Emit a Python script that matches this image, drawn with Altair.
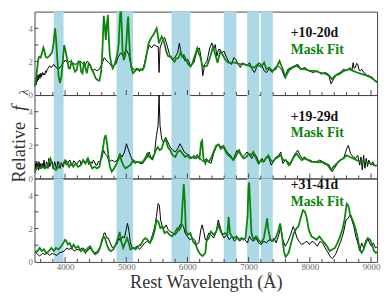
import altair as alt
import pandas as pd

SERIF = "Liberation Serif"
W, H = 349, 85
XMIN, XMAX = 3500, 9100

# masked wavelength windows (Angstrom)
band_start = [3815, 4840, 5740, 6595, 6975, 7200]
band_end = [3975, 5110, 6045, 6800, 7172, 7395]

phase_labels = ["+10-20d", "+19-29d", "+31-41d"]
fit_label = "Mask Fit"

x_label_values = [4000, 5000, 6000, 7000, 8000, 9000]
x_tick_values = list(range(3600, 9001, 200))
y_label_values = [0, 2, 4]
y_tick_values = [1, 2, 3, 4]

# ---------- panel 1 (+10-20d) ----------
p1_obs = [(3505,0.5),(3515,0.9),(3525,0.6),(3535,1.0),(3545,0.8),(3555,1.2),(3565,0.9),(3578,1.25),
          (3590,1.0),(3603,1.3),(3615,1.1),(3628,1.35),(3642,1.2),(3655,1.3),(3668,1.2),(3681,1.45),
          (3695,1.35),(3708,1.55),(3725,1.6),(3745,1.75),(3777,1.65),(3814,1.84),(3852,1.65),(3894,1.55),
          (3937,1.75),(3974,1.94),(4001,2.1),(4044,1.94),(4081,2.04),(4118,1.94),(4161,1.84),(4204,1.88),
          (4241,2.04),(4278,1.94),(4321,1.75),(4364,2.04),(4401,1.84),(4444,1.45),(4481,1.55),(4523,1.45),
          (4561,1.55),(4598,1.84),(4641,2.24),(4683,2.04),(4721,1.94),(4774,1.65),(4827,1.84),(4865,2.24),
          (4907,2.53),(4950,2.33),(4998,2.73),(5040,2.43),(5083,1.7),(5131,1.5),(5174,1.6),(5227,1.5),
          (5280,1.6),(5334,2.5),(5376,3.0),(5413,2.82),(5451,3.02),(5493,2.92),(5522,2.9),(5536,1.35),
          (5552,2.82),(5589,3.22),(5627,3.45),(5664,3.02),(5707,2.43),(5749,2.14),(5792,2.24),(5840,2.53),
          (5868,3.1),(5900,2.4),(5930,2.3),(5962,2.04),(6005,2.14),(6053,1.75),(6106,1.94),(6160,2.73),
          (6197,2.82),(6229,2.04),(6250,1.16),(6282,1.84),(6321,2.04),(6364,2.82),(6401,3.12),(6428,2.73),
          (6455,3.02),(6481,2.33),(6508,2.73),(6535,2.73),(6561,2.53),(6598,2.63),(6641,2.24),(6684,1.94),
          (6721,1.84),(6758,2.24),(6790,2.14),(6828,1.84),(6865,1.65),(6897,1.94),(6934,1.84),(6972,1.75),
          (7014,1.94),(7057,1.55),(7094,1.35),(7131,1.65),(7174,1.94),(7217,1.75),(7254,1.45),(7291,1.35),
          (7334,1.55),(7387,1.35),(7430,1.65),(7483,1.75),(7537,1.55),(7590,1.06),(7643,1.55),(7696,1.65),
          (7750,1.75),(7803,1.84),(7856,1.55),(7920,1.65),(7984,1.45),(8054,1.35),(8123,1.45),(8187,1.25),
          (8251,1.35),(8304,1.25),(8347,0.67),(8389,0.96),(8443,1.25),(8496,1.35),(8549,1.55),(8603,1.45),
          (8656,1.65),(8690,1.5),(8709,1.94),(8725,1.6),(8747,1.65),(8765,1.9),(8784,1.84),(8805,1.5),
          (8826,1.45),(8850,1.55),(8880,1.35),(8905,1.3),(8933,1.16),(8960,1.2),(8986,1.06),(9010,1.1),
          (9040,0.96),(9060,0.9),(9085,0.76),(9100,0.8)]
p1_fit = [(3505,0.55),(3520,0.8),(3535,1.3),(3550,1.8),(3565,2.2),(3580,2.3),(3601,2.25),(3628,2.6),
          (3645,2.85),(3660,2.7),(3681,2.3),(3708,2.24),(3730,2.3),(3760,2.4),(3790,2.6),(3815,3.2),
          (3835,4.0),(3850,3.5),(3870,2.3),(3895,1.1),(3915,0.72),(3940,1.1),(3962,2.0),(3985,3.0),
          (4010,2.6),(4035,2.1),(4060,1.6),(4081,1.6),(4105,2.0),(4130,1.8),(4161,1.4),(4190,1.5),
          (4215,2.0),(4241,2.0),(4262,1.4),(4285,1.3),(4310,2.0),(4335,1.6),(4355,1.3),(4385,1.9),
          (4410,1.8),(4440,1.5),(4470,1.3),(4500,1.0),(4530,0.9),(4561,0.85),(4590,1.4),(4612,2.8),
          (4632,4.75),(4648,4.2),(4665,3.3),(4682,4.2),(4700,4.8),(4712,3.6),(4730,2.4),(4755,1.9),
          (4780,1.6),(4805,1.8),(4830,2.1),(4855,2.5),(4875,3.0),(4895,4.5),(4910,5.4),(4925,4.2),
          (4940,2.6),(4960,2.1),(4985,2.4),(5005,3.3),(5022,4.4),(5032,4.7),(5045,3.5),(5062,2.3),
          (5085,1.6),(5110,1.3),(5135,1.4),(5160,1.5),(5190,1.55),(5215,1.45),(5240,1.55),(5265,1.5),
          (5290,1.65),(5315,2.1),(5340,2.6),(5365,3.1),(5390,3.3),(5420,3.5),(5450,3.65),(5475,3.85),
          (5497,4.0),(5515,3.6),(5535,3.1),(5555,3.3),(5580,3.5),(5605,3.3),(5630,3.0),(5655,2.6),
          (5680,2.35),(5707,2.3),(5730,2.3),(5760,2.1),(5790,2.0),(5815,2.2),(5840,2.2),(5865,2.3),
          (5890,2.6),(5915,2.3),(5940,2.4),(5965,2.2),(5990,2.0),(6020,1.8),(6050,1.7),(6080,1.9),
          (6106,2.2),(6135,2.5),(6160,2.8),(6185,2.5),(6210,2.3),(6240,1.8),(6268,1.7),(6321,1.75),
          (6375,2.33),(6417,2.9),(6455,2.43),(6492,1.94),(6535,2.6),(6572,2.43),(6614,2.14),(6668,1.94),
          (6721,1.94),(6774,1.94),(6828,1.88),(6881,1.84),(6934,1.84),(6988,1.8),(7041,1.69),(7094,1.65),
          (7147,1.84),(7201,1.69),(7254,1.94),(7291,1.55),(7334,1.65),(7387,1.45),(7441,1.55),(7505,2.04),
          (7558,1.55),(7600,1.06),(7654,1.45),(7718,1.65),(7787,1.75),(7856,1.55),(7920,1.55),(8000,1.45),
          (8080,1.45),(8160,1.35),(8240,1.29),(8320,1.16),(8363,0.96),(8411,1.16),(8480,1.25),(8560,1.45),
          (8640,1.55),(8709,1.45),(8773,1.35),(8853,1.25),(8933,1.16),(9013,1.02),(9082,0.82),(9100,0.8)]

# ---------- panel 2 (+19-29d) ----------
p2_obs = [(3505,0.31),(3515,0.9),(3525,0.5),(3535,1.0),(3545,0.6),(3555,0.9),(3565,0.5),(3575,1.0),
          (3588,0.6),(3601,0.9),(3615,0.6),(3628,0.9),(3642,0.7),(3655,1.1),(3668,0.6),(3681,0.7),
          (3695,1.0),(3708,0.9),(3720,0.6),(3734,1.2),(3748,0.7),(3761,0.8),(3775,1.1),(3788,1.0),
          (3800,0.6),(3814,0.7),(3828,1.0),(3841,0.9),(3855,0.6),(3868,0.7),(3880,1.0),(3894,1.0),
          (3908,0.7),(3921,0.6),(3935,0.95),(3948,0.9),(3960,0.7),(3974,0.7),(3988,1.0),(4001,1.0),
          (4022,0.8),(4044,0.9),(4062,1.05),(4081,1.1),(4100,0.8),(4118,0.8),(4140,1.05),(4161,1.0),
          (4182,0.85),(4204,0.9),(4222,1.05),(4241,1.1),(4260,0.85),(4278,0.9),(4300,1.1),(4321,1.0),
          (4342,0.95),(4364,1.2),(4382,0.85),(4401,0.9),(4422,1.0),(4444,0.9),(4462,1.1),(4481,1.0),
          (4502,0.8),(4523,0.8),(4542,1.0),(4561,1.0),(4580,1.1),(4598,1.2),(4630,1.69),(4651,1.49),
          (4683,1.39),(4721,1.0),(4763,1.1),(4811,1.0),(4854,1.1),(4896,1.49),(4934,1.29),(4971,1.59),
          (5003,2.08),(5030,1.78),(5067,1.39),(5110,1.0),(5147,0.9),(5184,1.0),(5227,0.9),(5270,0.9),
          (5307,1.1),(5344,1.29),(5376,1.59),(5403,1.2),(5429,1.1),(5461,1.49),(5493,2.57),(5520,3.16),
          (5536,5.0),(5552,3.16),(5579,2.37),(5610,2.18),(5643,2.47),(5680,2.18),(5717,1.88),(5760,1.69),
          (5802,1.59),(5840,1.78),(5877,2.08),(5909,1.88),(5946,1.59),(5984,1.49),(6026,1.39),(6069,1.2),
          (6106,1.39),(6144,1.2),(6186,1.29),(6229,1.1),(6268,1.0),(6311,1.2),(6348,1.0),(6385,0.9),
          (6428,1.49),(6471,1.88),(6508,2.08),(6545,1.88),(6588,1.98),(6630,1.69),(6668,1.49),(6705,1.39),
          (6748,1.1),(6785,1.49),(6812,1.69),(6854,1.49),(6897,1.29),(6934,1.39),(6972,1.59),(7014,1.39),
          (7052,1.2),(7094,1.49),(7131,1.29),(7174,0.9),(7217,1.2),(7254,1.0),(7291,1.29),(7334,1.2),
          (7371,0.8),(7414,1.1),(7451,1.29),(7494,1.39),(7526,1.59),(7558,0.9),(7600,1.1),(7643,1.0),
          (7680,0.8),(7718,1.2),(7760,1.49),(7803,1.69),(7840,1.39),(7878,1.2),(7920,1.29),(7963,1.1),
          (8006,1.1),(8054,1.0),(8107,1.0),(8160,1.1),(8214,1.0),(8267,0.9),(8320,0.8),(8363,0.41),
          (8400,0.6),(8453,0.9),(8507,1.1),(8560,1.29),(8603,1.78),(8629,1.98),(8667,1.49),(8709,1.29),
          (8747,1.2),(8784,1.39),(8816,0.8),(8837,1.29),(8858,0.51),(8880,1.39),(8901,0.61),(8922,1.2),
          (8944,0.71),(8965,1.1),(8997,0.8),(9029,1.0),(9061,0.76),(9093,0.8)]
p2_fit = [(3511,0.51),(3548,0.7),(3585,0.6),(3628,0.7),(3670,0.6),(3708,0.7),(3734,1.0),(3761,1.2),
          (3788,0.9),(3814,0.6),(3852,0.5),(3894,0.7),(3937,0.8),(3974,0.9),(4001,1.1),(4028,1.0),
          (4065,0.7),(4097,0.9),(4134,0.7),(4172,0.9),(4214,0.7),(4257,0.8),(4294,1.1),(4332,0.9),
          (4374,1.2),(4406,0.9),(4444,0.6),(4481,0.7),(4523,0.6),(4561,0.7),(4587,1.2),(4614,1.69),
          (4641,2.37),(4662,2.61),(4683,2.18),(4705,1.49),(4731,0.7),(4763,0.41),(4801,0.6),(4843,0.9),
          (4880,1.2),(4896,1.49),(4918,1.1),(4950,0.8),(4987,0.6),(5025,0.7),(5067,0.8),(5110,1.1),
          (5147,1.0),(5184,1.0),(5227,0.96),(5270,1.0),(5307,1.2),(5344,1.49),(5376,1.29),(5413,1.2),
          (5451,1.39),(5483,1.69),(5515,1.88),(5547,1.69),(5579,1.78),(5610,2.18),(5643,2.37),(5680,1.88),
          (5717,1.69),(5760,1.39),(5802,1.29),(5840,1.59),(5877,1.69),(5920,1.49),(5962,1.29),(6000,1.39),
          (6037,1.2),(6080,1.29),(6122,1.2),(6160,1.39),(6197,1.2),(6224,2.18),(6240,2.27),(6261,1.2),
          (6293,0.9),(6311,1.1),(6348,1.0),(6385,1.2),(6428,1.59),(6471,1.98),(6508,2.02),(6545,1.78),
          (6588,1.88),(6630,1.59),(6668,1.39),(6705,1.29),(6748,1.1),(6785,1.29),(6812,1.49),(6844,1.69),
          (6881,1.39),(6918,1.2),(6961,1.29),(7004,1.49),(7041,1.39),(7078,1.59),(7121,1.2),(7163,0.9),
          (7201,1.1),(7238,1.0),(7281,1.2),(7323,1.39),(7361,1.1),(7398,1.0),(7441,1.2),(7483,1.29),
          (7526,1.39),(7568,1.1),(7611,1.1),(7654,0.8),(7696,1.0),(7739,1.29),(7787,1.49),(7824,1.29),
          (7867,1.1),(7920,1.2),(7974,1.1),(8027,1.0),(8080,1.0),(8134,0.96),(8187,1.0),(8240,0.9),
          (8293,0.8),(8347,0.51),(8389,0.71),(8443,0.9),(8496,1.1),(8549,1.2),(8603,1.39),(8656,1.29),
          (8709,1.2),(8762,1.1),(8816,1.04),(8880,1.0),(8933,0.96),(8997,0.9),(9050,0.8),(9093,0.76)]

# ---------- panel 3 (+31-41d) ----------
p3_obs = [(3511,0.65),(3548,0.45),(3585,0.35),(3628,0.51),(3670,0.45),(3708,0.55),(3745,0.39),(3788,0.51),
          (3830,0.45),(3868,0.39),(3905,0.55),(3948,0.59),(3985,0.65),(4028,0.84),(4065,0.75),(4108,0.84),
          (4150,0.65),(4193,0.75),(4236,0.71),(4278,0.84),(4321,0.75),(4364,0.65),(4406,0.84),(4449,0.65),
          (4491,0.55),(4534,0.65),(4577,0.94),(4609,1.24),(4635,1.73),(4657,1.73),(4678,1.43),(4705,1.43),
          (4737,1.14),(4774,0.84),(4811,0.94),(4843,1.04),(4880,1.43),(4907,1.24),(4939,1.53),(4971,1.43),
          (5003,2.02),(5020,2.31),(5046,1.82),(5067,1.14),(5099,0.84),(5131,0.84),(5174,0.94),(5216,0.75),
          (5259,0.94),(5302,1.14),(5344,1.24),(5387,1.14),(5429,1.63),(5467,2.12),(5493,2.71),(5520,3.49),
          (5541,3.39),(5562,2.51),(5589,2.12),(5621,2.02),(5653,2.22),(5685,1.92),(5717,1.82),(5760,1.73),
          (5802,1.63),(5840,1.82),(5877,2.22),(5900,2.31),(5936,2.12),(5962,1.73),(6000,1.53),(6037,1.33),
          (6080,1.43),(6117,1.33),(6149,1.04),(6186,1.14),(6218,1.92),(6240,2.22),(6266,1.82),(6293,1.33),
          (6311,1.33),(6348,1.73),(6385,1.63),(6428,1.43),(6471,1.82),(6503,2.51),(6535,2.12),(6566,1.63),
          (6598,1.43),(6641,1.63),(6684,1.33),(6726,1.53),(6769,1.24),(6812,1.43),(6854,1.24),(6897,1.43),
          (6940,1.33),(6982,1.14),(7014,1.53),(7046,1.33),(7078,1.24),(7121,1.43),(7163,1.14),(7206,1.04),
          (7249,1.24),(7291,1.14),(7334,1.33),(7377,1.24),(7414,1.43),(7451,1.14),(7494,1.63),(7526,2.12),
          (7558,1.33),(7600,0.94),(7643,1.24),(7686,1.63),(7728,2.12),(7760,1.82),(7792,1.43),(7824,1.24),
          (7867,1.04),(7909,1.14),(7952,1.24),(7995,1.04),(8038,1.24),(8080,1.14),(8123,0.94),(8166,1.24),
          (8208,1.14),(8251,0.84),(8293,0.6),(8336,0.3),(8370,0.2),(8421,0.45),(8464,0.84),(8507,1.24),
          (8549,1.73),(8592,2.51),(8624,2.61),(8656,2.8),(8688,2.51),(8720,2.12),(8752,1.53),(8784,1.14),
          (8816,0.65),(8848,1.14),(8880,0.84),(8912,1.24),(8944,1.43),(8976,1.14),(9008,0.94),(9040,1.14),
          (9072,0.84),(9100,0.9)]
p3_fit = [(3511,0.55),(3548,0.65),(3585,0.84),(3617,0.65),(3655,0.75),(3692,0.51),(3734,0.65),(3777,0.84),
          (3814,0.65),(3852,0.84),(3894,0.75),(3937,0.94),(3974,1.14),(4001,1.33),(4022,1.24),(4044,1.04),
          (4076,1.14),(4108,0.84),(4140,1.04),(4172,0.84),(4214,0.94),(4257,0.65),(4294,0.75),(4332,0.55),
          (4374,0.84),(4412,0.94),(4449,0.65),(4491,0.45),(4534,0.55),(4571,0.84),(4604,1.33),(4630,1.53),
          (4651,1.43),(4683,1.04),(4715,0.75),(4747,0.65),(4790,0.75),(4827,1.04),(4865,1.43),(4891,1.8),
          (4918,1.24),(4950,0.84),(4982,1.14),(5014,1.43),(5040,1.14),(5067,0.75),(5110,0.84),(5152,0.75),
          (5195,0.94),(5238,1.04),(5280,1.33),(5312,1.43),(5344,1.33),(5387,1.14),(5429,1.43),(5467,1.92),
          (5493,2.51),(5525,2.41),(5557,2.02),(5589,2.12),(5627,1.73),(5664,1.82),(5707,1.63),(5749,1.53),
          (5792,1.73),(5835,2.02),(5866,1.92),(5899,2.12),(5920,3.49),(5940,4.67),(5956,3.69),(5973,1.92),
          (6005,1.63),(6048,1.73),(6090,1.24),(6133,1.04),(6176,0.65),(6213,0.45),(6250,0.35),(6293,0.55),
          (6311,1.24),(6348,1.43),(6385,1.82),(6428,1.63),(6471,1.82),(6508,2.22),(6545,1.82),(6577,1.63),
          (6614,1.73),(6652,1.63),(6673,2.71),(6694,1.73),(6726,1.53),(6758,1.43),(6801,1.53),(6844,1.33),
          (6881,1.43),(6918,1.33),(6950,1.43),(6982,2.71),(6998,4.47),(7009,4.76),(7025,3.49),(7046,1.73),
          (7078,1.33),(7121,1.53),(7163,1.33),(7206,1.14),(7249,1.43),(7281,2.12),(7302,2.61),(7323,1.92),
          (7355,1.33),(7398,1.24),(7441,1.43),(7483,1.82),(7515,2.31),(7547,1.53),(7579,0.6),(7605,0.3),
          (7654,0.55),(7696,1.14),(7739,1.73),(7782,2.02),(7814,2.12),(7856,2.71),(7888,3.1),(7920,3.0),
          (7952,2.61),(7984,1.92),(8027,1.53),(8070,1.43),(8112,1.33),(8155,1.53),(8198,1.33),(8240,1.14),
          (8283,0.94),(8325,0.65),(8368,0.75),(8411,0.84),(8453,1.14),(8496,1.53),(8539,2.02),(8571,2.61),
          (8603,3.49),(8629,3.39),(8656,2.9),(8688,2.61),(8720,2.31),(8752,1.92),(8784,1.43),(8816,0.75),
          (8848,0.55),(8880,0.75),(8917,1.14),(8949,1.43),(8986,1.33),(9018,1.04),(9050,0.65),(9082,0.55),
          (9100,0.6)]

panels = [(p1_obs, p1_fit), (p2_obs, p2_fit), (p3_obs, p3_fit)]

xs = alt.Scale(domain=[XMIN, XMAX], nice=False, zero=False)
ys = alt.Scale(domain=[0, 5], nice=False, zero=False)

bands_df = pd.DataFrame({"a": band_start, "b": band_end})
xt_df = pd.DataFrame({"wl": x_tick_values})
xt_df["major"] = xt_df["wl"] % 1000 == 0
yt_df = pd.DataFrame({"v": y_tick_values})


def make_panel(i):
    obs, fit = panels[i]
    bottom = i == 2
    if bottom:
        xaxis = alt.Axis(values=x_label_values, format="d", ticks=False, domain=False, grid=False,
                         labelFont=SERIF, labelFontSize=9, labelColor="#666", labelPadding=1,
                         title="Rest Wavelength (Å)", titleFont=SERIF, titleFontSize=18.5,
                         titleFontWeight="normal", titleColor="#333", titlePadding=1)
    else:
        xaxis = None
    yaxis = alt.Axis(values=y_label_values, format="d", ticks=False, domain=False, grid=False,
                     labelFont=SERIF, labelFontSize=9, labelColor="#777", labelPadding=2,
                     labelOverlap=False, title=None)

    X = lambda f: alt.X(f, scale=xs, axis=xaxis, title="Rest Wavelength (Å)" if bottom else None)
    Y = lambda f: alt.Y(f, scale=ys, axis=yaxis, title=None)

    bands = alt.Chart(bands_df).mark_rect(color="#add8e6").encode(
        x=X("a:Q"), x2="b:Q", y=alt.value(0), y2=alt.value(H))
    obs_df = pd.DataFrame(obs, columns=["wl", "flux"])
    fit_df = pd.DataFrame(fit, columns=["wl", "flux"])
    l_obs = alt.Chart(obs_df).mark_line(color="black", strokeWidth=1, clip=True).encode(
        x=X("wl:Q"), y=Y("flux:Q"), order="wl:Q")
    l_fit = alt.Chart(fit_df).mark_line(color="#0a850a", strokeWidth=1.8, clip=True).encode(
        x=X("wl:Q"), y=Y("flux:Q"), order="wl:Q")
    minor = alt.Chart(xt_df[~xt_df["major"]]).mark_rule(color="#444", strokeWidth=1).encode(
        x=X("wl:Q"), y=alt.value(H), y2=alt.value(H - 3))
    major = alt.Chart(xt_df[xt_df["major"]]).mark_rule(color="#444", strokeWidth=1).encode(
        x=X("wl:Q"), y=alt.value(H), y2=alt.value(H - 5))
    yt = alt.Chart(yt_df).mark_rule(color="#444", strokeWidth=1).encode(
        y=Y("v:Q"), x=alt.value(0), x2=alt.value(4))

    ty = [22, 22, 7][i]
    t1 = alt.Chart(pd.DataFrame({"t": [phase_labels[i]]})).mark_text(
        font=SERIF, fontSize=14, fontWeight="bold", color="#111", align="left", baseline="middle"
    ).encode(x=alt.value(261), y=alt.value(ty), text="t:N")
    t2 = alt.Chart(pd.DataFrame({"t": [fit_label]})).mark_text(
        font=SERIF, fontSize=14, fontWeight="bold", color="#0a850a", align="left", baseline="middle"
    ).encode(x=alt.value(261), y=alt.value(ty + 17), text="t:N")

    layers = [bands, l_obs, l_fit, minor, major, yt, t1, t2]
    if i == 1:
        r = alt.Chart(pd.DataFrame({"t": ["Relative"]})).mark_text(
            font=SERIF, fontSize=18.5, color="#333", angle=270, align="left", baseline="alphabetic"
        ).encode(x=alt.value(-10), y=alt.value(89), text="t:N")
        f = alt.Chart(pd.DataFrame({"t": ["f"]})).mark_text(
            font=SERIF, fontSize=19.5, fontStyle="italic", color="#333", angle=270, align="left",
            baseline="alphabetic"
        ).encode(x=alt.value(-10), y=alt.value(16), text="t:N")
        lam = alt.Chart(pd.DataFrame({"t": ["λ"]})).mark_text(
            font=SERIF, fontSize=13, fontStyle="italic", color="#333", angle=270, align="left",
            baseline="alphabetic"
        ).encode(x=alt.value(-7), y=alt.value(0), text="t:N")
        layers += [r, f, lam]
    return alt.layer(*layers).properties(width=W, height=H)


chart = alt.vconcat(make_panel(0), make_panel(1), make_panel(2), spacing=0, bounds="flush").properties(
    padding={"left": 0, "top": 0, "right": 1, "bottom": 0}
).configure_view(stroke="#444", strokeWidth=1)

chart.save("out.html", embed_options={"renderer": "svg", "actions": False})
